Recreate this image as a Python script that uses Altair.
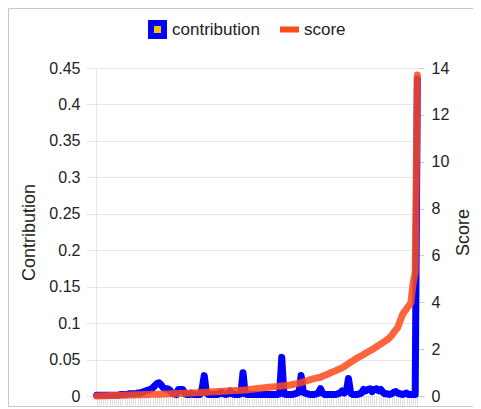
import altair as alt
import pandas as pd

series_names = ["contribution", "score"]
series_colors = ["#0000ff", "#ff4a1a"]

score = [
    0.00, 0.00, 0.01, 0.01, 0.01, 0.01, 0.02, 0.02, 0.02, 0.02,
    0.03, 0.03, 0.03, 0.03, 0.04, 0.04, 0.04, 0.04, 0.05, 0.05,
    0.05, 0.05, 0.06, 0.06, 0.06, 0.07, 0.07, 0.07, 0.08, 0.08,
    0.08, 0.09, 0.09, 0.09, 0.10, 0.10, 0.10, 0.11, 0.11, 0.11,
    0.12, 0.12, 0.12, 0.13, 0.13, 0.13, 0.14, 0.14, 0.15, 0.15,
    0.16, 0.16, 0.17, 0.17, 0.18, 0.18, 0.19, 0.19, 0.20, 0.20,
    0.21, 0.21, 0.22, 0.22, 0.23, 0.23, 0.24, 0.25, 0.25, 0.26,
    0.27, 0.28, 0.29, 0.30, 0.31, 0.32, 0.33, 0.34, 0.35, 0.36,
    0.37, 0.38, 0.39, 0.40, 0.41, 0.42, 0.43, 0.44, 0.45, 0.46,
    0.47, 0.49, 0.51, 0.53, 0.55, 0.57, 0.60, 0.63, 0.66, 0.69,
    0.72, 0.74, 0.76, 0.78, 0.80, 0.84, 0.88, 0.92, 0.96, 1.00,
    1.04, 1.08, 1.12, 1.16, 1.20, 1.26, 1.32, 1.38, 1.44, 1.50,
    1.56, 1.62, 1.67, 1.72, 1.77, 1.83, 1.88, 1.93, 1.98, 2.04,
    2.10, 2.16, 2.22, 2.28, 2.34, 2.40, 2.48, 2.58, 2.70, 2.82,
    2.95, 3.20, 3.45, 3.60, 3.72, 3.85, 3.97, 4.80, 5.30, 13.70,
]

contribution = [
    0.001, 0.001, 0.001, 0.001, 0.001, 0.001, 0.001, 0.001, 0.001, 0.001,
    0.001, 0.002, 0.002, 0.002, 0.002, 0.003, 0.003, 0.003, 0.003, 0.004,
    0.004, 0.005, 0.006, 0.007, 0.008, 0.009, 0.011, 0.014, 0.017, 0.018,
    0.015, 0.011, 0.010, 0.010, 0.008, 0.004, 0.003, 0.002, 0.009, 0.009,
    0.009, 0.003, 0.002, 0.002, 0.004, 0.002, 0.002, 0.002, 0.002, 0.010,
    0.028, 0.004, 0.002, 0.002, 0.002, 0.002, 0.002, 0.003, 0.005, 0.003,
    0.002, 0.003, 0.007, 0.003, 0.002, 0.002, 0.002, 0.003, 0.032, 0.003,
    0.002, 0.002, 0.002, 0.002, 0.002, 0.002, 0.002, 0.002, 0.002, 0.002,
    0.002, 0.002, 0.002, 0.002, 0.002, 0.003, 0.053, 0.003, 0.002, 0.002,
    0.002, 0.002, 0.003, 0.004, 0.005, 0.028, 0.005, 0.004, 0.003, 0.002,
    0.002, 0.002, 0.003, 0.004, 0.010, 0.004, 0.002, 0.002, 0.002, 0.002,
    0.002, 0.002, 0.003, 0.004, 0.007, 0.004, 0.006, 0.024, 0.004, 0.002,
    0.002, 0.002, 0.003, 0.004, 0.009, 0.007, 0.009, 0.010, 0.006, 0.009,
    0.010, 0.007, 0.009, 0.005, 0.003, 0.003, 0.002, 0.003, 0.005, 0.006,
    0.004, 0.003, 0.002, 0.003, 0.004, 0.002, 0.002, 0.002, 0.002, 0.435,
]

contrib_ticks = [0, 0.05, 0.1, 0.15, 0.2, 0.25, 0.3, 0.35, 0.4, 0.45]
score_ticks = [0, 2, 4, 6, 8, 10, 12, 14]

df = pd.DataFrame({
    "idx": list(range(len(score))),
    "contribution": contribution,
    "score": score,
})
legend_df = pd.DataFrame({"series": series_names})

FONT = "Liberation Sans"
TXT = "#222222"
GRID = "#e6e6e6"

color_scale = alt.Scale(domain=series_names, range=series_colors)
shape_scale = alt.Scale(domain=series_names,
                        range=["M-1,-1H1V1H-1Z", "M0,-1M0,1M-1.46,0H1.46"])


def make_legend():
    return alt.Legend(
        title=None, orient="none", legendX=52, legendY=-48, direction="horizontal",
        symbolOpacity=1, symbolStrokeWidth=6, symbolSize=169,
        labelFontSize=17, labelColor=TXT, labelFont=FONT,
        labelOffset=5, columnPadding=8)


x_enc = alt.X(
    "idx:O",
    scale=alt.Scale(type="point", padding=0.3),
    axis=alt.Axis(labels=False, title=None, domain=False, ticks=True,
                  tickSize=9, tickColor="#dedede", grid=False),
)

contrib_layer = alt.Chart(df).mark_line(
    strokeWidth=7, strokeCap="round", strokeJoin="round", color=series_colors[0]
).encode(
    x=x_enc,
    y=alt.Y("contribution:Q", scale=alt.Scale(domain=[0, 0.45]),
            axis=alt.Axis(title="Contribution", values=contrib_ticks, format="~g",
                          grid=True, gridColor=GRID, domain=True, domainColor=GRID,
                          tickSize=10, tickColor=GRID, labelPadding=6,
                          labelFontSize=16, titleFontSize=18, labelColor=TXT,
                          titleColor=TXT, titleFontWeight="normal", titlePadding=10,
                          labelFont=FONT, titleFont=FONT)),
)

score_layer = alt.Chart(df).mark_line(
    strokeWidth=7, strokeCap="round", strokeJoin="round", opacity=0.85,
    color=series_colors[1]
).encode(
    x=x_enc,
    y=alt.Y("score:Q", scale=alt.Scale(domain=[0, 14]),
            axis=alt.Axis(title="Score", orient="right", values=score_ticks,
                          grid=False, domain=False, tickSize=6, tickColor="#cccccc",
                          labelPadding=7, labelFontSize=16, titleFontSize=18,
                          labelColor=TXT, titleColor=TXT, titleFontWeight="normal",
                          titleAngle=270, titlePadding=24,
                          labelFont=FONT, titleFont=FONT)),
)

legend_layer = alt.Chart(legend_df).mark_point(
    filled=True, fill="#f5c400", size=0
).encode(
    x=alt.value(-300),
    y=alt.value(-300),
    stroke=alt.Stroke("series:N", scale=color_scale, legend=make_legend()),
    shape=alt.Shape("series:N", scale=shape_scale, legend=make_legend()),
)

frame = alt.Chart(pd.DataFrame({"f": [0]})).mark_rect(
    fill="transparent", stroke="#c8c8c8", strokeWidth=1
).encode(
    x=alt.value(-87.5), x2=alt.value(420), y=alt.value(-59.5), y2=alt.value(338.5)
)

chart = alt.layer(frame, contrib_layer, score_layer, legend_layer).resolve_scale(
    y="independent"
).properties(
    width=322, height=328,
    autosize=alt.AutoSizeParams(type="none"),
    padding={"left": 88, "top": 60, "right": 55, "bottom": 13},
).configure_view(stroke=None)

chart.save("out.html", embed_options={"renderer": "svg", "actions": False})
